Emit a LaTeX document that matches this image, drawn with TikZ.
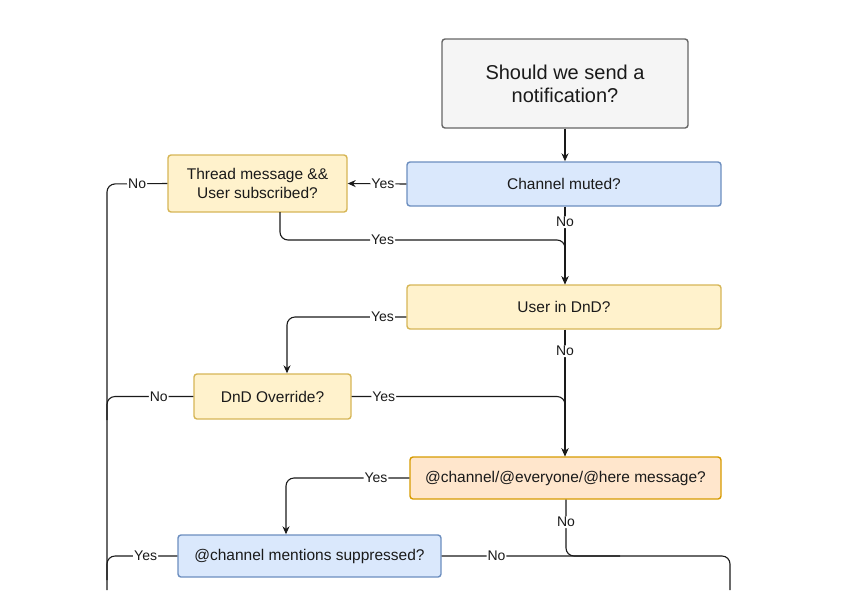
\documentclass[tikz,border=0pt]{standalone}
\usepackage{fontspec}
\setmainfont{Liberation Sans}
\usetikzlibrary{arrows.meta}
\definecolor{gfill}{HTML}{F5F5F5}
\definecolor{gline}{HTML}{666666}
\definecolor{bfill}{HTML}{DAE8FC}
\definecolor{bline}{HTML}{6C8EBF}
\definecolor{yfill}{HTML}{FFF2CC}
\definecolor{yline}{HTML}{D6B656}
\definecolor{ofill}{HTML}{FFE6CC}
\definecolor{oline}{HTML}{D79B00}
\definecolor{conn}{HTML}{1A1A1A}
\begin{document}
\begin{tikzpicture}[x=1pt,y=-1pt,
  box/.style={draw, line width=1.4pt, rounded corners=3pt, align=center, inner sep=0pt,
    text=conn, font=\fontsize{15.5}{18.5}\selectfont},
  startbox/.style={box, fill=gfill, draw=gline, font=\fontsize{20}{23}\selectfont},
  bluebox/.style={box, fill=bfill, draw=bline},
  yellowbox/.style={box, fill=yfill, draw=yline},
  orangebox/.style={box, fill=ofill, draw=oline},
  conn/.style={draw=conn, line width=1.1pt, rounded corners=8pt},
  arr/.style={conn, -{Stealth[length=8pt,width=7pt]}},
  lbl/.style={fill=white, inner sep=1pt, font=\fontsize{14}{16}\selectfont, text=conn}
]
\useasboundingbox (0,0) rectangle (854,590);

\node[startbox, minimum width=246pt, minimum height=89pt] (start) at (565,83.5) {Should we send a\\notification?};
\node[bluebox, minimum width=314pt, minimum height=44pt] (muted) at (564,184) {Channel muted?};
\node[yellowbox, minimum width=179pt, minimum height=57pt] (thread) at (257.5,183.5) {Thread message \&\&\\User subscribed?};
\node[yellowbox, minimum width=314pt, minimum height=44pt] (dnd) at (564,307) {User in DnD?};
\node[yellowbox, minimum width=157pt, minimum height=45pt] (override) at (272.5,396.5) {DnD Override?};
\node[orangebox, minimum width=311pt, minimum height=42pt] (chan) at (565.5,478) {@channel/@everyone/@here message?};
\node[bluebox, minimum width=263pt, minimum height=42pt] (supp) at (309.5,556) {@channel mentions suppressed?};

\coordinate (leftbot) at (107,590);
\coordinate (rightbot) at (730,590);

% start -> muted
\draw[arr] (start.south -| 565,0) -- (muted.north -| 565,0);
% muted -> thread (Yes)
\draw[arr] (muted.west) -- node[lbl, pos=0.4]{Yes} (thread.east);
% thread -> left (No)
\draw[conn] (thread.west) -- node[lbl, pos=0.5]{No} (107,184) -- (leftbot);
% muted -> dnd (No)
\draw[arr] (muted.south -| 565,0) -- node[lbl, pos=0.2]{No} (dnd.north -| 565,0);
% thread -> dnd (Yes)
\draw[arr] (280,212) -- (280,240) -- node[lbl, pos=0.36]{Yes} (565,240) -- (dnd.north -| 565,0);
% dnd -> override (Yes)
\draw[arr] (dnd.west |- 0,317) -- node[lbl, pos=0.2]{Yes} (287,317) -- (override.north -| 287,0);
% override -> left (No)
\draw[conn] (override.west) -- node[lbl, pos=0.4]{No} (107,396.5) -- (107,420);
% dnd -> chan (No)
\draw[arr] (dnd.south -| 565,0) -- node[lbl, pos=0.17]{No} (chan.north -| 565,0);
% override -> chan (Yes)
\draw[arr] (override.east) -- node[lbl, pos=0.15]{Yes} (565,396.5) -- (chan.north -| 565,0);
% chan -> supp (Yes)
\draw[arr] (chan.west) -- node[lbl, pos=0.27]{Yes} (286,478) -- (supp.north -| 286,0);
% supp -> left (Yes)
\draw[conn] (supp.west) -- node[lbl, pos=0.45]{Yes} (107,556) -- (107,580);
% supp -> right (No)
\draw[conn] (supp.east) -- node[lbl, pos=0.19]{No} (730,556) -- (rightbot);
% chan -> right (No)
\draw[conn] (chan.south -| 566,0) -- node[lbl, pos=0.4]{No} (566,556) -- (620,556);
\end{tikzpicture}
\end{document}
